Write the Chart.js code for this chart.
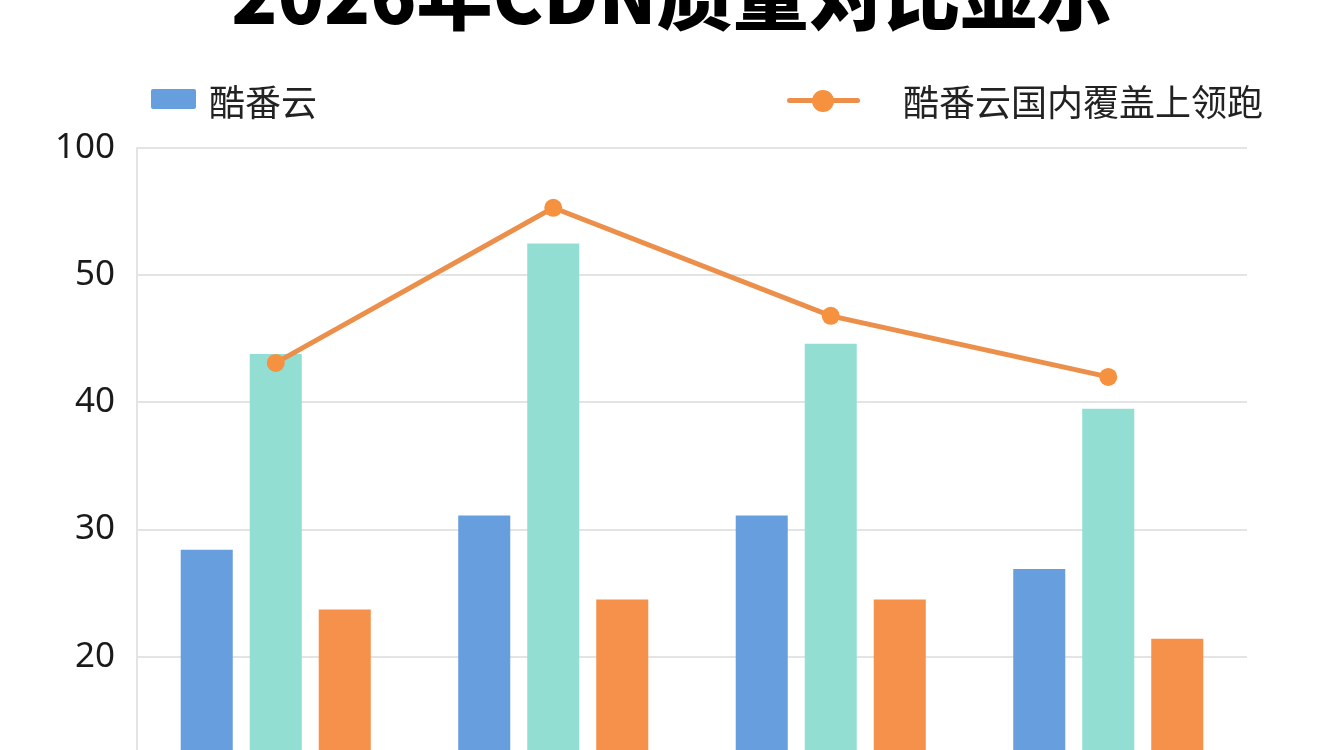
<!DOCTYPE html>
<html>
<head>
<meta charset="utf-8">
<script src="https://cdn.jsdelivr.net/npm/chart.js@4/dist/chart.umd.min.js"></script>
<style>
  html, body { margin: 0; padding: 0; width: 1344px; height: 750px; overflow: hidden; background: #fff; }
  #wrap { position: relative; width: 1344px; height: 750px; }
  #title { position: absolute; left: 0; top: -47px; width: 1344px; text-align: center;
           font: 900 76px "Noto Sans CJK SC", sans-serif; line-height: 1; color: #000; }
  .lg { position: absolute; font: 36px "Noto Sans CJK SC", sans-serif; color: #222; line-height: 1; }
  canvas { position: absolute; left: 0; top: 0; }
</style>
</head>
<body>
<div id="wrap">
  <canvas id="cdn" width="1344" height="954"></canvas>
  <div id="title">2026年CDN质量对比显示</div>
  <div id="legend"></div>
</div>
<script>
let quarters = ["Q1", "Q2", "Q3", "Q4"];
let kufanyun = [28.4, 31.1, 31.1, 26.9];
let rivalA = [43.8, 52.5, 44.6, 39.5];
let rivalB = [23.7, 24.5, 24.5, 21.4];
let leadLine = [43.1, 55.3, 46.8, 42.0];

// the axis labels are not evenly spaced values: top line reads 100
let yTickValues = [60, 50, 40, 30, 20, 10, 0];
let yTickLabels = ["100", "50", "40", "30", "20", "10", "0"];

const blue = "#679FDE";
const teal = "#93DED3";
const orange = "#F5914A";
const lineOrange = "#EB8F4A";

// html legend, only two entries are shown in the picture
let legend = document.getElementById("legend");
legend.innerHTML =
  '<div style="position:absolute;left:151px;top:89px;width:45px;height:20px;border-radius:2px;background:' + blue + '"></div>' +
  '<div class="lg" style="left:209px;top:82px">酷番云</div>' +
  '<div style="position:absolute;left:787px;top:98px;width:73px;height:5px;border-radius:3px;background:' + lineOrange + '"></div>' +
  '<div style="position:absolute;left:812px;top:90px;width:22px;height:22px;border-radius:50%;background:#F5913F"></div>' +
  '<div class="lg" style="left:903px;top:82px">酷番云国内覆盖上领跑</div>';

const ctx = document.getElementById("cdn").getContext("2d");
const cdnChart = new Chart(ctx, {
    type: "bar",
    data: {
        labels: quarters,
        datasets: [
            {
                type: "line",
                label: "酷番云国内覆盖上领跑",
                data: leadLine,
                borderColor: lineOrange,
                borderWidth: 5,
                pointRadius: 9,
                pointBackgroundColor: "#F5913F",
                pointBorderWidth: 0,
                tension: 0,
                order: 0
            },
            {
                label: "酷番云",
                data: kufanyun,
                backgroundColor: blue,
                order: 1
            },
            {
                label: "竞品A",
                data: rivalA,
                backgroundColor: teal,
                order: 1
            },
            {
                label: "竞品B",
                data: rivalB,
                backgroundColor: orange,
                order: 1
            }
        ]
    },
    options: {
        responsive: false,
        animation: false,
        datasets: {
            bar: {
                categoryPercentage: 0.746,
                barPercentage: 0.754
            }
        },
        layout: {
            padding: { top: 148, right: 97, bottom: 10, left: 0 }
        },
        scales: {
            x: {
                display: false,
                offset: true
            },
            y: {
                min: 0,
                max: 60,
                afterFit: function (scale) {
                    scale.width = 137;
                },
                grid: {
                    color: "#e4e4e4",
                    lineWidth: 2,
                    drawTicks: false
                },
                border: {
                    display: true,
                    color: "#e4e4e4",
                    width: 2
                },
                afterBuildTicks: function (scale) {
                    scale.ticks = yTickValues.map(v => ({ value: v }));
                },
                ticks: {
                    padding: 22,
                    color: "#1a1a1a",
                    font: { family: "Noto Sans", size: 35 },
                    callback: function (value) {
                        let i = yTickValues.indexOf(value);
                        return i >= 0 ? yTickLabels[i] : "";
                    }
                }
            }
        },
        plugins: {
            legend: { display: false },
            tooltip: { enabled: false }
        }
    }
});
</script>
</body>
</html>
